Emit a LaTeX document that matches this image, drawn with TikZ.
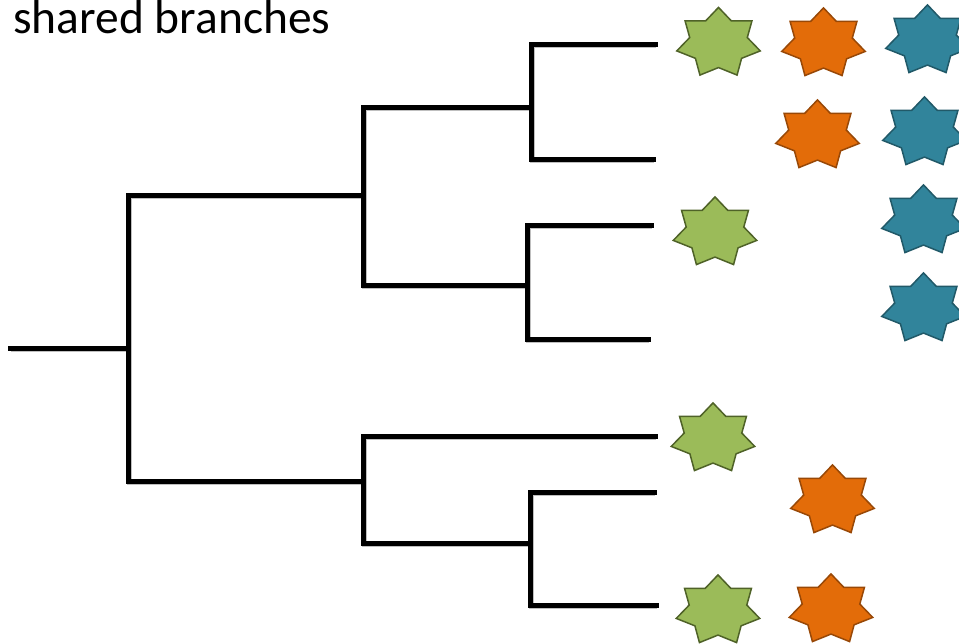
\documentclass[tikz,border=0pt]{standalone}
\usepackage{fontspec}
\setmainfont{Carlito}
\definecolor{gfill}{HTML}{9BBB59}
\definecolor{gline}{HTML}{4F6228}
\definecolor{ofill}{HTML}{E36C09}
\definecolor{oline}{HTML}{984807}
\definecolor{bfill}{HTML}{31849B}
\definecolor{bline}{HTML}{215968}
\tikzset{
  branch/.style={line width=5pt, line cap=rect, line join=miter, black,
    preaction={draw=black!25, line width=5pt, transform canvas={shift={(1.2pt,-1.8pt)}}}},
  gstar/.style={fill=gfill, draw=gline, line width=1.5pt},
  ostar/.style={fill=ofill, draw=oline, line width=1.5pt},
  bstar/.style={fill=bfill, draw=bline, line width=1.5pt},
  pics/star7/.style={code={
    \draw[#1, line join=miter] plot[samples=14, domain=0:13, variable=\k]
      ({42.8*(0.845+0.155*cos(\k*180))*cos(90+\k*180/7)},
       {35.6*(0.845+0.155*cos(\k*180))*sin(90+\k*180/7)}) -- cycle;
  }}
}
\begin{document}
\begin{tikzpicture}[x=1pt, y=1pt]
\useasboundingbox (0,0) rectangle (959,-643);
% title
\node[anchor=base west, inner sep=0, font=\fontsize{47.5}{54}\selectfont] (title) at (13,-33) {shared branches};
% tree coordinates
\coordinate (r0) at (10,-348);
\coordinate (n1) at (128,-348);
\coordinate (n2) at (363,-195);
\coordinate (n3) at (531,-107);
\coordinate (n4) at (527,-285);
\coordinate (n5) at (363,-481);
\coordinate (n6) at (530,-543);
\coordinate (L1) at (655,-44);
\coordinate (L2) at (653,-159);
\coordinate (L3) at (651,-225);
\coordinate (L4) at (648,-339);
\coordinate (L5) at (655,-436);
\coordinate (L6) at (654,-492);
\coordinate (L7) at (656,-605);
% branches
\draw[branch] (r0) -- (n1);
\draw[branch] (n2) -| (n1) |- (n5);
\draw[branch] (n3) -| (n2) |- (n4);
\draw[branch] (L1) -| (n3) |- (L2);
\draw[branch] (L3) -| (n4) |- (L4);
\draw[branch] (L5) -| (n5) |- (n6);
\draw[branch] (L6) -| (n6) |- (L7);
% stars
\pic at (718.5,-43) {star7=gstar};
\pic at (823.5,-43.5) {star7=ostar};
\pic at (927.5,-40.5) {star7=bstar};
\pic at (817.5,-135.5) {star7=ostar};
\pic at (924.5,-132.5) {star7=bstar};
\pic at (715,-232.5) {star7=gstar};
\pic at (923.5,-220.5) {star7=bstar};
\pic at (923.5,-308.5) {star7=bstar};
\pic at (713,-438.5) {star7=gstar};
\pic at (832.5,-500.5) {star7=ostar};
\pic at (718,-610.5) {star7=gstar};
\pic at (831,-609.5) {star7=ostar};
\end{tikzpicture}
\end{document}
